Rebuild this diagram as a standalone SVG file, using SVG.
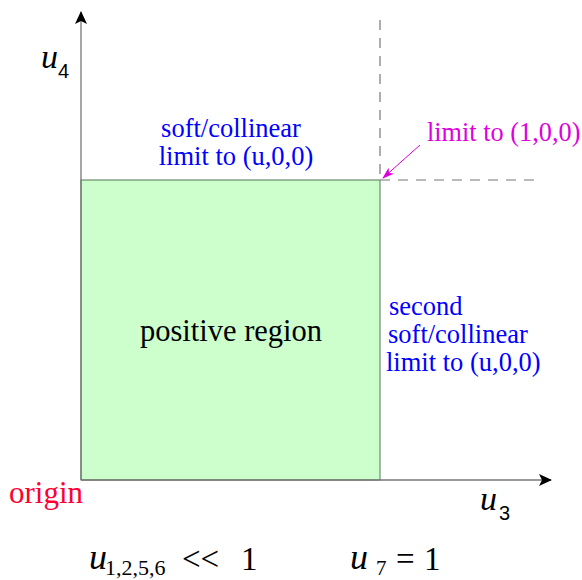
<svg xmlns="http://www.w3.org/2000/svg" width="582" height="580" viewBox="0 0 582 580">
<style>
.t{font-family:"Liberation Serif",serif}
.s{font-family:"Liberation Sans",sans-serif}
.blue{fill:#0000ff;font-size:26.5px}
.it{font-style:italic}
.ax{stroke:#777;stroke-width:1.3;fill:none}
.dash{stroke:#777;stroke-width:1.2;stroke-dasharray:10,8;fill:none}
</style>
<defs>
<marker id="ah" markerWidth="13" markerHeight="12" refX="12" refY="6" orient="auto" markerUnits="userSpaceOnUse">
<path d="M0,0 L13,6 L0,12 L3,6 Z" fill="#000"/>
</marker>
<marker id="mh" markerWidth="12" markerHeight="8" refX="11" refY="4" orient="auto" markerUnits="userSpaceOnUse">
<path d="M0,0 L12,4 L0,8 L3,4 Z" fill="#dd00dd"/>
</marker>
</defs>
<g id="region">
<rect x="81" y="180" width="299" height="300" fill="#ccffcc" stroke="#557755" stroke-width="1"/>
<text class="t" x="231" y="341" font-size="30.5" text-anchor="middle">positive region</text>
</g>
<g id="connectors">
<line class="ax" x1="81" y1="480" x2="81" y2="12" marker-end="url(#ah)"/>
<line class="ax" x1="81" y1="480" x2="551" y2="480" marker-end="url(#ah)"/>
<line class="dash" x1="380" y1="20" x2="380" y2="180"/>
<line class="dash" x1="380" y1="180" x2="536" y2="180"/>
<line x1="420" y1="145" x2="383" y2="178" stroke="#dd00dd" stroke-width="1" marker-end="url(#mh)"/>
</g>
<g id="u4label">
<text class="t it" x="41" y="68" font-size="34">u</text>
<text class="s" x="58" y="78" font-size="20">4</text>
</g>
<g id="top-label">
<text class="t blue" x="231" y="137" text-anchor="middle">soft/collinear</text>
<text class="t blue" x="236" y="165" text-anchor="middle">limit to (u,0,0)</text>
</g>
<g id="corner-label">
<text class="t" x="427" y="141" font-size="26.3" fill="#dd00dd">limit to (1,0,0)</text>
</g>
<g id="right-label">
<text class="t blue" x="389" y="315">second</text>
<text class="t blue" x="388" y="343">soft/collinear</text>
<text class="t blue" x="386" y="371">limit to (u,0,0)</text>
</g>
<g id="origin">
<text class="t" x="9" y="503" font-size="31" fill="#ff0033">origin</text>
</g>
<g id="u3label">
<text class="t it" x="480" y="510" font-size="34">u</text>
<text class="s" x="499" y="520" font-size="20">3</text>
</g>
<g id="conditions">
<text class="t it" x="89" y="569" font-size="36">u</text>
<text class="t" x="105" y="575" font-size="22">1,2,5,6</text>
<text class="t" x="182" y="570" font-size="33">&lt;&lt;</text>
<text class="t" x="241" y="570" font-size="33">1</text>
<text class="t it" x="350" y="569" font-size="36">u</text>
<text class="t" x="376" y="575" font-size="21">7</text>
<text class="t" x="396" y="570" font-size="33">=</text>
<text class="t" x="424" y="570" font-size="33">1</text>
</g>
</svg>
